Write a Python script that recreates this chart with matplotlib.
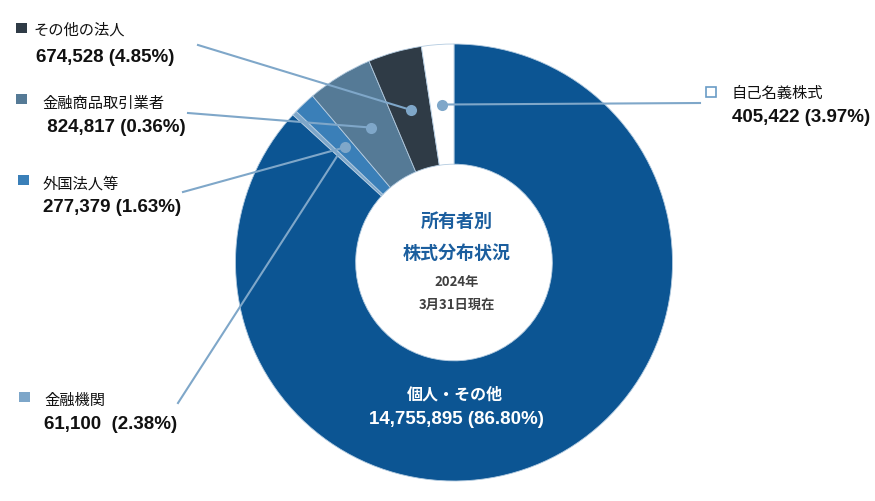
import numpy as np
import matplotlib.pyplot as plt
from matplotlib.patches import Rectangle

# shareholder data (shares held), clockwise from 12 o'clock
categories = ['個人・その他', '金融機関', '外国法人等', '金融商品取引業者', 'その他の法人', '自己名義株式']
shares = [14755895, 61100, 277379, 824817, 674528, 405422]
value_labels = ['14,755,895 (86.80%)', '61,100  (2.38%)', '277,379 (1.63%)',
                ' 824,817 (0.36%)', '674,528 (4.85%)', '405,422 (3.97%)']
colors = ['#0c5593', '#7da6c9', '#3a7fb8', '#557a96', '#2f3b46', '#ffffff']

W, H = 875, 502
def Y(y):
    return H - y

JP = ['Noto Sans CJK JP', 'DejaVu Sans']
NUM = ['Liberation Sans', 'DejaVu Sans']

fig = plt.figure(figsize=(W / 100, H / 100), dpi=100)
ax = fig.add_axes([0, 0, 1, 1])

cx, cy, R = 454, Y(263.5), 218.5
wedges, _ = ax.pie(shares, colors=colors, startangle=90, counterclock=False,
                   center=(cx, cy), radius=R,
                   wedgeprops=dict(width=R * 0.55, edgecolor='#b3cbe0', linewidth=0.6))
ax.set_xlim(0, W)
ax.set_ylim(0, H)
ax.set_aspect('equal')
ax.axis('off')

# leader lines: label end point per category
line_starts = {1: (178, 404), 2: (183, 193), 3: (188, 114), 4: (198, 46), 5: (700, 104)}
lc = '#7fa7c9'
for i, (sx, sy) in line_starts.items():
    w = wedges[i]
    mid = np.deg2rad((w.theta1 + w.theta2) / 2)
    px, py = cx + 0.725 * R * np.cos(mid), cy + 0.725 * R * np.sin(mid)
    ax.plot([sx, px], [Y(sy), py], color=lc, lw=1.5, zorder=5)
    if i != 1:
        ax.plot(px, py, 'o', ms=8, color=lc, mec='none', zorder=6)

# legend-like labels: (square x, square y, name x, name y, value x, value y)
label_pos = {
    4: (16, 24, 33, 30, 36, 57),
    3: (16, 95, 42, 103, 42, 127),
    2: (18, 176, 43, 184, 43, 208),
    1: (19, 393, 44, 400, 44, 425),
    5: (706, 88, 732, 93, 732, 118),
}
for i, (qx, qy, nx, ny, vx, vy) in label_pos.items():
    if i == 5:
        ax.add_patch(Rectangle((qx, Y(qy + 10)), 10, 10, facecolor='white',
                               edgecolor='#6a9cc6', lw=1.2))
    else:
        ax.add_patch(Rectangle((qx, Y(qy + 10)), 11, 10, facecolor=colors[i],
                               edgecolor='none'))
    ax.text(nx, Y(ny), categories[i], family=JP, fontsize=11, color='#111111',
            ha='left', va='center')
    ax.text(vx, Y(vy), value_labels[i], family=NUM,
            fontsize=13.5, fontweight='bold', color='#111111', ha='left', va='center')

# big slice label
ax.text(455, Y(395), categories[0], family=JP, fontsize=11.5, fontweight='bold',
        color='white', ha='center', va='center')
ax.text(456, Y(420), value_labels[0], family=NUM, fontsize=13.5, fontweight='bold',
        color='white', ha='center', va='center')

# centre title
ax.text(457, Y(221), '所有者別', family=JP, fontsize=13, fontweight='bold',
        color='#1b5e9e', ha='center', va='center')
ax.text(457, Y(253), '株式分布状況', family=JP, fontsize=13, fontweight='bold',
        color='#1b5e9e', ha='center', va='center')
ax.text(457, Y(282), '2024年', family=JP, fontsize=9.5, fontweight='bold',
        color='#404040', ha='center', va='center')
ax.text(457, Y(305), '3月31日現在', family=JP, fontsize=9.5, fontweight='bold',
        color='#404040', ha='center', va='center')

fig.savefig('out.png', dpi=100)
